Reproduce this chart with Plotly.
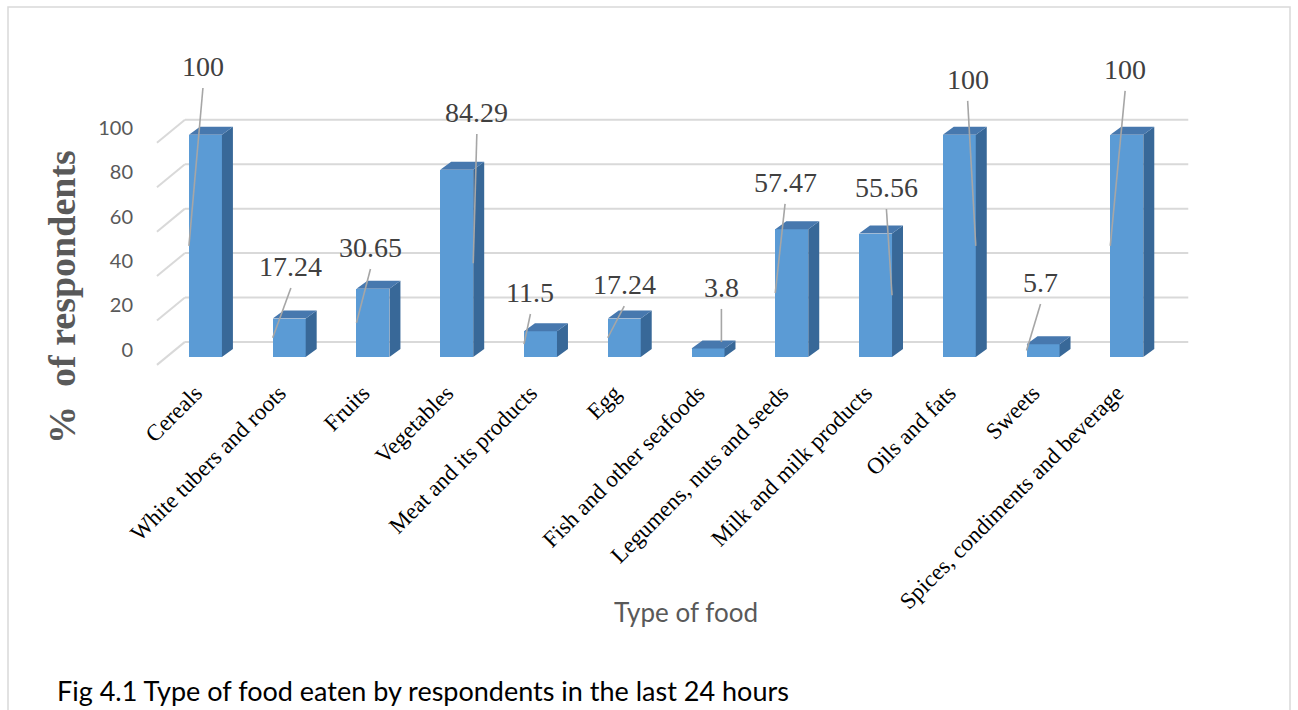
import plotly.graph_objects as go

categories = ["Cereals", "White tubers and roots", "Fruits", "Vegetables",
              "Meat and its products", "Egg", "Fish and other seafoods",
              "Legumens, nuts and seeds", "Milk and milk products",
              "Oils and fats", "Sweets", "Spices, condiments and beverage"]
values = [100, 17.24, 30.65, 84.29, 11.5, 17.24, 3.8, 57.47, 55.56, 100, 5.7, 100]
y_ticks = [0, 20, 40, 60, 80, 100]

# layout helpers (positions / styles)
label_dx = [-0.03, 0.02, -0.03, 0.24, -0.12, 0.0, 0.16, -0.08, 0.13, 0.10, -0.03, -0.02]
label_y = [130.6, 40.5, 49.1, 109.9, 28.8, 32.4, 31.1, 78.4, 76.1, 124.8, 33.3, 129.3]
leader_side = [-1, -1, -1, 1, -1, -1, 0, -1, 1, 1, -1, -1]

W_FIG, H_FIG = 1298, 710
L, R, T, B = 151, 100, 46, 342
XMIN, XMAX = -0.65, 11.85
YMIN, YMAX = -5, 140
PW = W_FIG - L - R
PH = H_FIG - T - B

def px2paper(px, py):
    return (px - L) / PW, (H_FIG - B - py) / PH

BAR_W = 0.394
DX, DY = 0.131, 3.6          # bar depth
WALL_DY = 6.76               # back wall offset
WALL_X0, WALL_X1 = -0.245, 11.734
FRONT_X, FRONT_DY = -0.579, -3.6

FRONT = "#5B9BD5"
SIDE = "#386898"
TOP = "#4778AE"
GRID = "#D9D9D9"

fig = go.Figure()

xs = list(range(len(categories)))

fig.add_trace(go.Bar(x=xs, y=values, width=BAR_W, marker=dict(color=FRONT, line=dict(width=0)),
                     showlegend=False, hoverinfo="skip"))

# side and top faces
sx, sy, tx, ty = [], [], [], []
for i, v in zip(xs, values):
    r = i + BAR_W / 2
    l = i - BAR_W / 2
    sx += [r, r + DX, r + DX, r, r, None]
    sy += [0, DY, v + DY, v, 0, None]
    tx += [l, l + DX, r + DX, r, l, None]
    ty += [v, v + DY, v + DY, v, v, None]
fig.add_trace(go.Scatter(x=sx, y=sy, mode="lines", fill="toself", fillcolor=SIDE,
                         line=dict(width=0, color=SIDE), showlegend=False, hoverinfo="skip"))
fig.add_trace(go.Scatter(x=tx, y=ty, mode="lines", fill="toself", fillcolor=TOP,
                         line=dict(width=0, color=TOP), showlegend=False, hoverinfo="skip"))

# leader lines
lx, ly = [], []
for i, v, d, ylab, side in zip(xs, values, label_dx, label_y, leader_side):
    x0 = i + d
    y0 = ylab - 9.5
    if side == 0:
        x1, y1 = x0, v + DY * 0.8
    else:
        x1, y1 = i + side * BAR_W / 2, v / 2
    lx += [x0, x1, None]
    ly += [y0, y1, None]
fig.add_trace(go.Scatter(x=lx, y=ly, mode="lines", line=dict(color="#A6A6A6", width=1.6),
                         showlegend=False, hoverinfo="skip"))

shapes = []
for t in y_ticks:
    shapes.append(dict(type="line", xref="x", yref="y", x0=WALL_X0, x1=WALL_X1,
                       y0=t + WALL_DY, y1=t + WALL_DY, line=dict(color=GRID, width=2), layer="below"))
    shapes.append(dict(type="line", xref="x", yref="y", x0=FRONT_X, x1=WALL_X0,
                       y0=t + FRONT_DY, y1=t + WALL_DY, line=dict(color=GRID, width=2), layer="below"))

bx0, by0 = px2paper(8, 7)
bx1, by1 = px2paper(1290, 740)
shapes.append(dict(type="rect", xref="paper", yref="paper", x0=bx0, x1=bx1, y0=by1, y1=by0,
                   line=dict(color="#D9D9D9", width=1.5), layer="below"))

annotations = []
for i, v, d, ylab in zip(xs, values, label_dx, label_y):
    annotations.append(dict(x=i + d, y=ylab, xref="x", yref="y", text=f"{v:g}", showarrow=False,
                            font=dict(family="Liberation Serif, serif", size=28, color="#404040"),
                            xanchor="center", yanchor="middle"))

ax_, ay_ = px2paper(62, 297)
annotations.append(dict(x=ax_, y=ay_, xref="paper", yref="paper", text="<b>%  of respondents</b>",
                        textangle=-90, showarrow=False,
                        font=dict(family="Liberation Serif, serif", size=38, color="#595959"),
                        xanchor="center", yanchor="middle"))
tx_, ty_ = px2paper(686, 612)
annotations.append(dict(x=tx_, y=ty_, xref="paper", yref="paper", text="Type of food",
                        showarrow=False, font=dict(family="Lato", size=26, color="#595959"),
                        xanchor="center", yanchor="middle"))
cx_, cy_ = px2paper(55, 690)
annotations.append(dict(x=cx_, y=cy_, xref="paper", yref="paper",
                        text="Fig 4.1 Type of food eaten by respondents in the last 24 hours",
                        showarrow=False, font=dict(family="Lato", size=27, color="#000000"),
                        xanchor="left", yanchor="middle"))

fig.update_layout(
    width=W_FIG, height=H_FIG,
    margin=dict(l=L, r=R, t=T, b=B, pad=0),
    paper_bgcolor="white", plot_bgcolor="rgba(0,0,0,0)",
    shapes=shapes, annotations=annotations,
    bargap=0,
    xaxis=dict(range=[XMIN, XMAX], tickmode="array", tickvals=xs, ticktext=categories,
               tickangle=-45, showgrid=False, zeroline=False, showline=False, ticks="",
               tickfont=dict(family="Liberation Serif, serif", size=23, color="#000000"),
               ticklabelshift=-10, ticklabelstandoff=6),
    yaxis=dict(range=[YMIN, YMAX], tickmode="array", tickvals=y_ticks,
               showgrid=False, zeroline=False, showline=False, ticks="",
               tickfont=dict(family="Lato", size=20, color="#595959"),
               ticklabelshift=-7, ticklabelstandoff=17),
)

fig.write_html("out.html")
